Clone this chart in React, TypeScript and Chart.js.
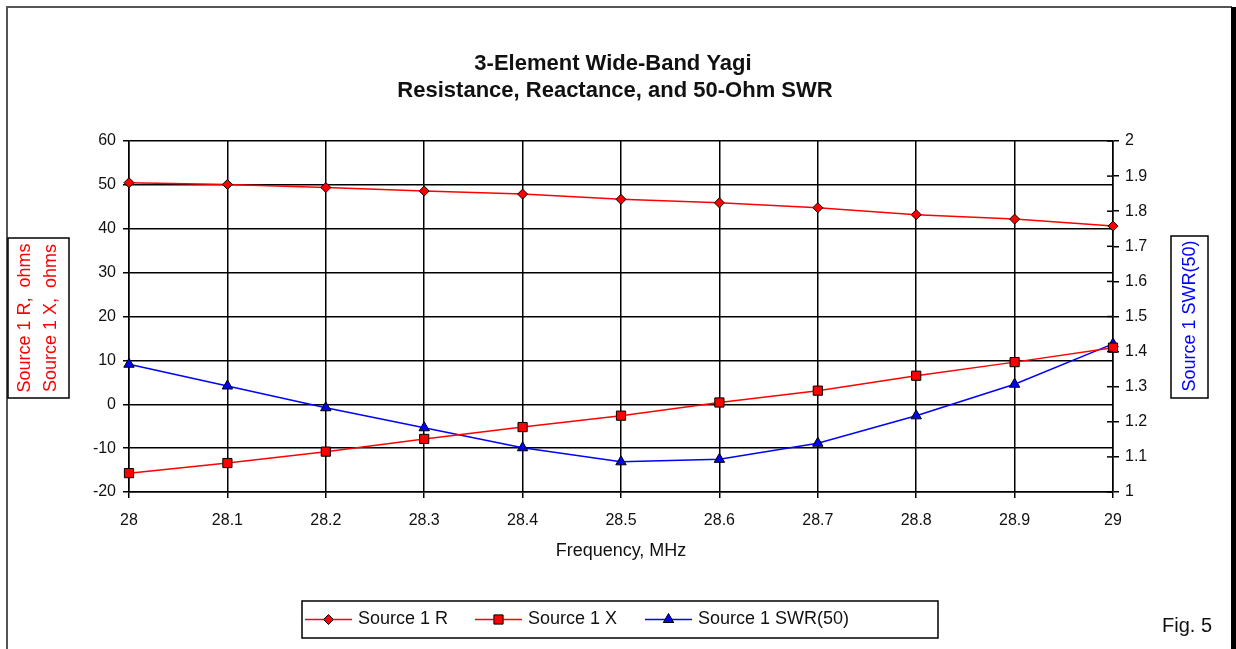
import React, { useEffect, useRef } from 'react';
import { Chart, registerables } from 'chart.js';

Chart.register(...registerables);

const frequencies = [28, 28.1, 28.2, 28.3, 28.4, 28.5, 28.6, 28.7, 28.8, 28.9, 29];
const resistance = [50.5, 50.1, 49.4, 48.6, 47.9, 46.7, 45.9, 44.8, 43.2, 42.2, 40.6];
const reactance = [-15.7, -13.4, -10.8, -7.9, -5.2, -2.6, 0.4, 3.1, 6.5, 9.6, 12.9];
const swr = [1.364, 1.302, 1.24, 1.183, 1.126, 1.086, 1.093, 1.139, 1.217, 1.307, 1.422];

const seriesLabels = ['Source 1 R', 'Source 1 X', 'Source 1 SWR(50)'];
const titleLines = ['3-Element Wide-Band Yagi', 'Resistance, Reactance, and 50-Ohm SWR'];
const leftAxisLines = ['Source 1 R,  ohms', 'Source 1 X,  ohms'];
const rightAxisLabel = 'Source 1 SWR(50)';
const xAxisLabel = 'Frequency, MHz';
const figLabel = 'Fig. 5';

const FONT = '"Liberation Sans", Arial, Helvetica, sans-serif';

function toPoints(ys: number[]) {
  return frequencies.map((x, i) => ({ x, y: ys[i] }));
}

function marker(ctx: CanvasRenderingContext2D, style: string, x: number, y: number, r: number, fill: string) {
  ctx.save();
  ctx.beginPath();
  if (style === 'rectRot') {
    ctx.moveTo(x, y - r);
    ctx.lineTo(x + r, y);
    ctx.lineTo(x, y + r);
    ctx.lineTo(x - r, y);
    ctx.closePath();
  } else if (style === 'rect') {
    const s = r * Math.SQRT1_2;
    ctx.rect(x - s, y - s, 2 * s, 2 * s);
  } else {
    const a = Math.PI / 6;
    ctx.moveTo(x, y - r);
    ctx.lineTo(x + Math.cos(a) * r, y + Math.sin(a) * r);
    ctx.lineTo(x - Math.cos(a) * r, y + Math.sin(a) * r);
    ctx.closePath();
  }
  ctx.fillStyle = fill;
  ctx.fill();
  ctx.lineWidth = 1;
  ctx.strokeStyle = '#000';
  ctx.stroke();
  ctx.restore();
}

const decorPlugin = {
  id: 'decor',
  beforeDraw(chart: any) {
    const ctx = chart.ctx as CanvasRenderingContext2D;
    ctx.save();
    ctx.fillStyle = '#fff';
    ctx.fillRect(0, 0, chart.width, chart.height);
    ctx.restore();
  },
  afterDraw(chart: any) {
    const ctx = chart.ctx as CanvasRenderingContext2D;
    const H = chart.height;
    ctx.save();

    // outer frame
    ctx.strokeStyle = '#555';
    ctx.lineWidth = 2;
    ctx.beginPath();
    ctx.moveTo(7, H);
    ctx.lineTo(7, 7);
    ctx.lineTo(1232, 7);
    ctx.stroke();
    ctx.fillStyle = '#000';
    ctx.fillRect(1231, 7, 5, H - 7);

    // title
    ctx.fillStyle = '#111';
    ctx.textAlign = 'center';
    ctx.textBaseline = 'middle';
    ctx.font = `bold 22px ${FONT}`;
    ctx.fillText(titleLines[0], 613, 64);
    ctx.fillText(titleLines[1], 615, 91);

    // x axis title
    const area = chart.chartArea;
    ctx.font = `18px ${FONT}`;
    ctx.fillText(xAxisLabel, (area.left + area.right) / 2, 551);

    // left axis title box
    ctx.strokeStyle = '#000';
    ctx.lineWidth = 1.5;
    ctx.strokeRect(8, 238, 61, 160);
    ctx.fillStyle = '#ff0000';
    ctx.save();
    ctx.translate(25, 318);
    ctx.rotate(-Math.PI / 2);
    ctx.fillText(leftAxisLines[0], 0, 0);
    ctx.restore();
    ctx.save();
    ctx.translate(51, 318);
    ctx.rotate(-Math.PI / 2);
    ctx.fillText(leftAxisLines[1], 0, 0);
    ctx.restore();

    // right axis title box
    ctx.strokeRect(1171, 236, 37, 162);
    ctx.fillStyle = '#0000ff';
    ctx.save();
    ctx.translate(1190, 316);
    ctx.rotate(-Math.PI / 2);
    ctx.fillText(rightAxisLabel, 0, 0);
    ctx.restore();

    // inner tick marks of right axis
    const y2 = chart.scales.y2;
    ctx.strokeStyle = '#000';
    ctx.lineWidth = 1.5;
    y2.ticks.forEach((t: any) => {
      const py = y2.getPixelForValue(t.value);
      ctx.beginPath();
      ctx.moveTo(area.right - 6, py);
      ctx.lineTo(area.right, py);
      ctx.stroke();
    });

    // legend
    ctx.strokeStyle = '#000';
    ctx.lineWidth = 1.5;
    ctx.strokeRect(302, 601, 636, 37);
    const starts = [305, 475, 645];
    ctx.font = `18px ${FONT}`;
    ctx.textAlign = 'left';
    chart.data.datasets.forEach((ds: any, i: number) => {
      const x0 = starts[i];
      const yc = 619.5;
      ctx.strokeStyle = ds.borderColor;
      ctx.lineWidth = ds.borderWidth;
      ctx.beginPath();
      ctx.moveTo(x0, yc);
      ctx.lineTo(x0 + 47, yc);
      ctx.stroke();
      marker(ctx, ds.pointStyle, x0 + 23.5, yc, ds.pointRadius, ds.pointBackgroundColor);
      ctx.fillStyle = '#111';
      ctx.fillText(ds.label, x0 + 53, yc);
    });

    // figure label
    ctx.font = `20px ${FONT}`;
    ctx.textAlign = 'left';
    ctx.fillStyle = '#111';
    ctx.fillText(figLabel, 1162, 626);

    ctx.restore();
  },
};

const fmt = (v: any) => String(Math.round(Number(v) * 10) / 10);

export default function App() {
  const canvasRef = useRef<HTMLCanvasElement | null>(null);

  useEffect(() => {
    if (!canvasRef.current) return;
    const chart = new Chart(canvasRef.current, {
      type: 'line',
      data: {
        datasets: [
          {
            label: seriesLabels[0],
            data: toPoints(resistance),
            yAxisID: 'y',
            borderColor: '#ff0000',
            borderWidth: 1.5,
            pointStyle: 'rectRot',
            pointRadius: 5,
            pointBackgroundColor: '#ff0000',
            pointBorderColor: '#000',
            pointBorderWidth: 1,
            clip: false,
          } as any,
          {
            label: seriesLabels[1],
            data: toPoints(reactance),
            yAxisID: 'y',
            borderColor: '#ff0000',
            borderWidth: 1.5,
            pointStyle: 'rect',
            pointRadius: 6.5,
            pointBackgroundColor: '#ff0000',
            pointBorderColor: '#000',
            pointBorderWidth: 1,
            clip: false,
          } as any,
          {
            label: seriesLabels[2],
            data: toPoints(swr),
            yAxisID: 'y2',
            borderColor: '#0000ff',
            borderWidth: 1.5,
            pointStyle: 'triangle',
            pointRadius: 6,
            pointBackgroundColor: '#0000ff',
            pointBorderColor: '#000',
            pointBorderWidth: 1,
            clip: false,
          } as any,
        ],
      },
      options: {
        animation: false,
        responsive: true,
        maintainAspectRatio: false,
        layout: { padding: { top: 141, left: 0, right: 0, bottom: 0 } },
        plugins: {
          legend: { display: false },
          title: { display: false },
          tooltip: { enabled: false },
        },
        scales: {
          x: {
            type: 'linear',
            min: 28,
            max: 29,
            ticks: {
              stepSize: 0.1,
              callback: fmt,
              font: { size: 16, family: FONT },
              color: '#111',
              padding: 13,
              maxRotation: 0,
              autoSkip: false,
            },
            grid: { color: '#000', lineWidth: 1.5, tickLength: 6, drawTicks: true },
            border: { display: true, color: '#000', width: 1.5 },
            afterFit: (s: any) => { s.height = 157; },
          },
          y: {
            type: 'linear',
            position: 'left',
            min: -20,
            max: 60,
            ticks: {
              stepSize: 10,
              font: { size: 16, family: FONT },
              color: '#111',
              padding: 7,
            },
            grid: { color: '#000', lineWidth: 1.5, tickLength: 6 },
            border: { display: true, color: '#000', width: 1.5 },
            afterFit: (s: any) => { s.width = 129; },
          },
          y2: {
            type: 'linear',
            position: 'right',
            min: 1,
            max: 2,
            ticks: {
              stepSize: 0.1,
              callback: fmt,
              font: { size: 16, family: FONT },
              color: '#111',
              padding: 6,
            },
            grid: { drawOnChartArea: false, color: '#000', lineWidth: 1.5, tickLength: 6 },
            border: { display: true, color: '#000', width: 1.5 },
            afterFit: (s: any) => { s.width = 123; },
          },
        },
      } as any,
      plugins: [decorPlugin],
    });
    return () => chart.destroy();
  }, []);

  return (
    <div style={{ position: 'fixed', left: 0, top: 0, width: 1236, height: 649, background: '#fff' }}>
      <canvas ref={canvasRef} />
    </div>
  );
}
